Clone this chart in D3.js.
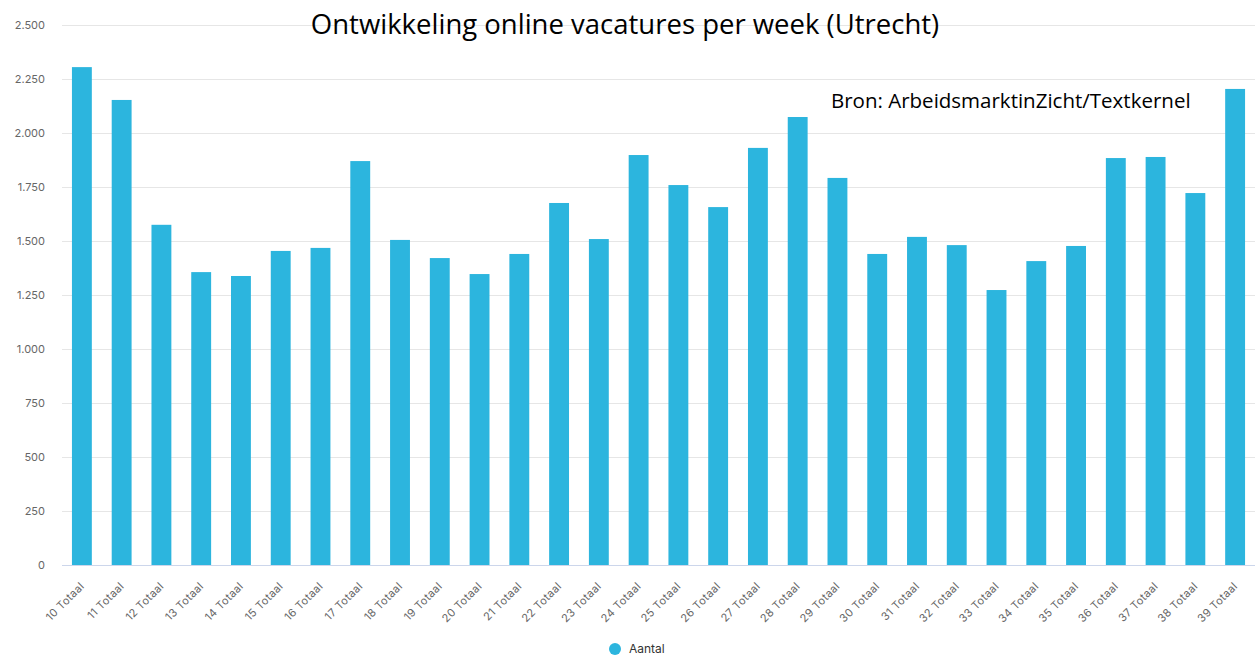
<!DOCTYPE html>
<html>
<head>
<meta charset="utf-8">
<script src="https://cdnjs.cloudflare.com/ajax/libs/d3/7.8.5/d3.min.js"></script>
<style>
	body { margin: 0; background: #fff; }
	svg { display: block; }
</style>
</head>
<body>
<script>
var weeks = ['10', '11', '12', '13', '14', '15', '16', '17', '18', '19', '20', '21', '22', '23', '24',
		'25', '26', '27', '28', '29', '30', '31', '32', '33', '34', '35', '36', '37', '38', '39'];
var aantal = [2305, 2153, 1575, 1356, 1338, 1454, 1468, 1870, 1505, 1421, 1347, 1440, 1676, 1509, 1898,
		1759, 1657, 1931, 2074, 1792, 1440, 1519, 1481, 1273, 1407, 1477, 1884, 1889, 1722, 2204];
var yTicks = [0, 250, 500, 750, 1000, 1250, 1500, 1750, 2000, 2250, 2500];

var title = "Ontwikkeling online vacatures per week (Utrecht)",
		source = "Bron: ArbeidsmarktinZicht/Textkernel",
		seriesName = "Aantal";

var W = 1255, H = 656;
var margin = {top: 25, right: 0, bottom: 91, left: 62};
var width = W - margin.left - margin.right,
		height = H - margin.top - margin.bottom;

var svg = d3.select("body").append("svg")
	.attr("width", W)
	.attr("height", H);

var g = svg.append("g")
	.attr("transform", "translate(" + margin.left + "," + margin.top + ")");

var x = d3.scaleBand()
	.domain(weeks)
	.range([0, width])
	.paddingInner(0.5)
	.paddingOuter(0.25);

var y = d3.scaleLinear()
	.domain([0, 2500])
	.range([height, 0]);

var labelFont = "Inter, 'Open Sans', sans-serif";

// gridlines
g.append("g")
	.selectAll("line")
	.data(yTicks.filter(function(d) { return d > 0; }))
	.join("line")
		.attr("x1", 0)
		.attr("x2", width)
		.attr("y1", function(d) { return Math.round(y(d)) + 0.5; })
		.attr("y2", function(d) { return Math.round(y(d)) + 0.5; })
		.attr("stroke", "#e6e6e6")
		.attr("stroke-width", 1);

// y labels
g.append("g")
	.selectAll("text")
	.data(yTicks)
	.join("text")
		.attr("x", -17)
		.attr("y", function(d) { return y(d); })
		.attr("dy", "0.35em")
		.attr("text-anchor", "end")
		.attr("font-family", labelFont)
		.attr("font-size", 11)
		.attr("fill", "#666")
		.text(function(d) { return d3.format(",")(d).replace(/,/g, "."); });

// bars
g.append("g")
	.selectAll("rect")
	.data(aantal)
	.join("rect")
		.attr("x", function(d, i) { return x(weeks[i]); })
		.attr("y", function(d) { return y(d); })
		.attr("width", x.bandwidth())
		.attr("height", function(d) { return height - y(d); })
		.attr("fill", "#2cb5de");

// x axis line
g.append("line")
	.attr("x1", 0)
	.attr("x2", width)
	.attr("y1", height + 0.5)
	.attr("y2", height + 0.5)
	.attr("stroke", "#ccd6eb");

// x labels
g.append("g")
	.selectAll("text")
	.data(weeks)
	.join("text")
		.attr("transform", function(d) {
			return "translate(" + (x(d) + x.bandwidth() / 2 + 3) + "," + (height + 22) + ") rotate(-45)";
		})
		.attr("text-anchor", "end")
		.attr("font-family", labelFont)
		.attr("font-size", 11)
		.attr("letter-spacing", 0.3)
		.attr("fill", "#666")
		.text(function(d) { return d + " Totaal"; });

// title
svg.append("text")
	.attr("x", 625)
	.attr("y", 34)
	.attr("text-anchor", "middle")
	.attr("font-family", "'Open Sans', sans-serif")
	.attr("font-size", 27.5)
	.attr("fill", "#000")
	.text(title);

// source
svg.append("text")
	.attr("x", 831)
	.attr("y", 108)
	.attr("font-family", "'Open Sans', sans-serif")
	.attr("font-size", 20.5)
	.attr("fill", "#000")
	.text(source);

// legend
var legend = svg.append("g")
	.attr("transform", "translate(615,649)");
legend.append("circle")
	.attr("r", 6)
	.attr("fill", "#2cb5de");
legend.append("text")
	.attr("x", 14)
	.attr("dy", "0.35em")
	.attr("font-family", labelFont)
	.attr("font-size", 12)
	.attr("fill", "#333")
	.text(seriesName);
</script>
</body>
</html>
